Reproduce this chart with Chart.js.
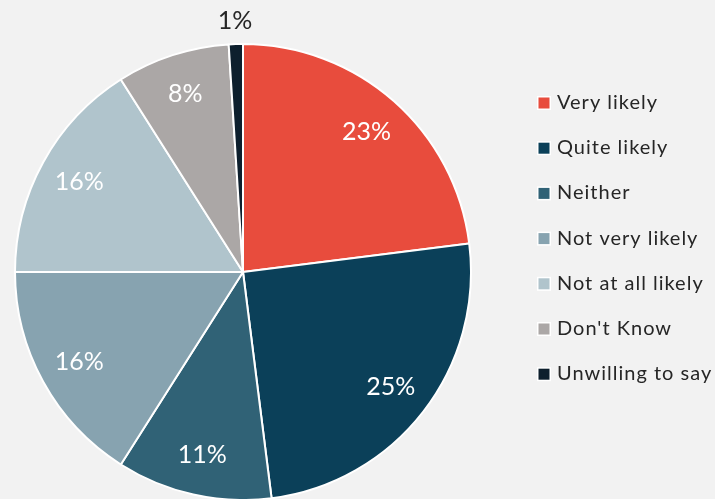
<!DOCTYPE html>
<html>
<head>
<meta charset="utf-8">
<script src="https://cdn.jsdelivr.net/npm/chart.js@4/dist/chart.umd.min.js"></script>
<style>
  html, body { margin: 0; padding: 0; background: #f2f2f2; overflow: hidden; }
  #wrap { width: 715px; height: 499px; position: relative; }
</style>
</head>
<body>
<div id="wrap"><canvas id="c" width="715" height="499"></canvas></div>
<script>
const categories = ['Very likely', 'Quite likely', 'Neither', 'Not very likely', 'Not at all likely', "Don't Know", 'Unwilling to say'];
const shares = [23, 25, 11, 16, 16, 8, 1];
const sliceColors = ['#e84c3d', '#0b4059', '#306276', '#87a3b0', '#b0c4cc', '#aba7a6', '#0d1f2d'];

const FONT = 'Lato, "Open Sans", sans-serif';

// Percent labels placed along each slice's mid-angle
const sliceLabels = {
  id: 'sliceLabels',
  afterDatasetsDraw(chart) {
    const ctx = chart.ctx;
    const meta = chart.getDatasetMeta(0);
    ctx.save();
    ctx.textAlign = 'center';
    ctx.textBaseline = 'middle';
    ctx.font = '25px ' + FONT;
    meta.data.forEach((arc, i) => {
      const p = arc.getProps(['x', 'y', 'startAngle', 'endAngle', 'outerRadius'], true);
      const mid = (p.startAngle + p.endAngle) / 2;
      const small = shares[i] < 3;
      const r = p.outerRadius * (small ? 1.1 : 0.82);
      ctx.fillStyle = small ? '#262626' : '#ffffff';
      ctx.fillText(shares[i] + '%', p.x + Math.cos(mid) * r, p.y + Math.sin(mid) * r);
    });
    ctx.restore();
  }
};

// Legend drawn down the right side
const sideLegend = {
  id: 'sideLegend',
  afterDraw(chart) {
    const ctx = chart.ctx;
    ctx.save();
    ctx.font = '20px ' + FONT;
    ctx.letterSpacing = '1px';
    ctx.textBaseline = 'middle';
    const x = 537, y0 = 102.5, step = 45.2;
    categories.forEach((name, i) => {
      const y = y0 + i * step;
      ctx.fillStyle = '#ffffff';
      ctx.fillRect(x, y - 6.5, 14, 14);
      ctx.fillStyle = sliceColors[i];
      ctx.fillRect(x + 1.5, y - 5, 11, 11);
      ctx.fillStyle = '#262626';
      ctx.fillText(name, x + 20, y);
    });
    ctx.restore();
  }
};

new Chart(document.getElementById('c'), {
  type: 'pie',
  data: {
    labels: categories,
    datasets: [{
      data: shares,
      backgroundColor: sliceColors,
      borderColor: '#ffffff',
      borderWidth: 2
    }]
  },
  options: {
    responsive: false,
    animation: false,
    radius: 228,
    layout: { padding: { left: 15, right: 244, top: 45, bottom: 0 } },
    plugins: {
      legend: { display: false },
      tooltip: { enabled: false }
    }
  },
  plugins: [sliceLabels, sideLegend]
});
</script>
</body>
</html>
